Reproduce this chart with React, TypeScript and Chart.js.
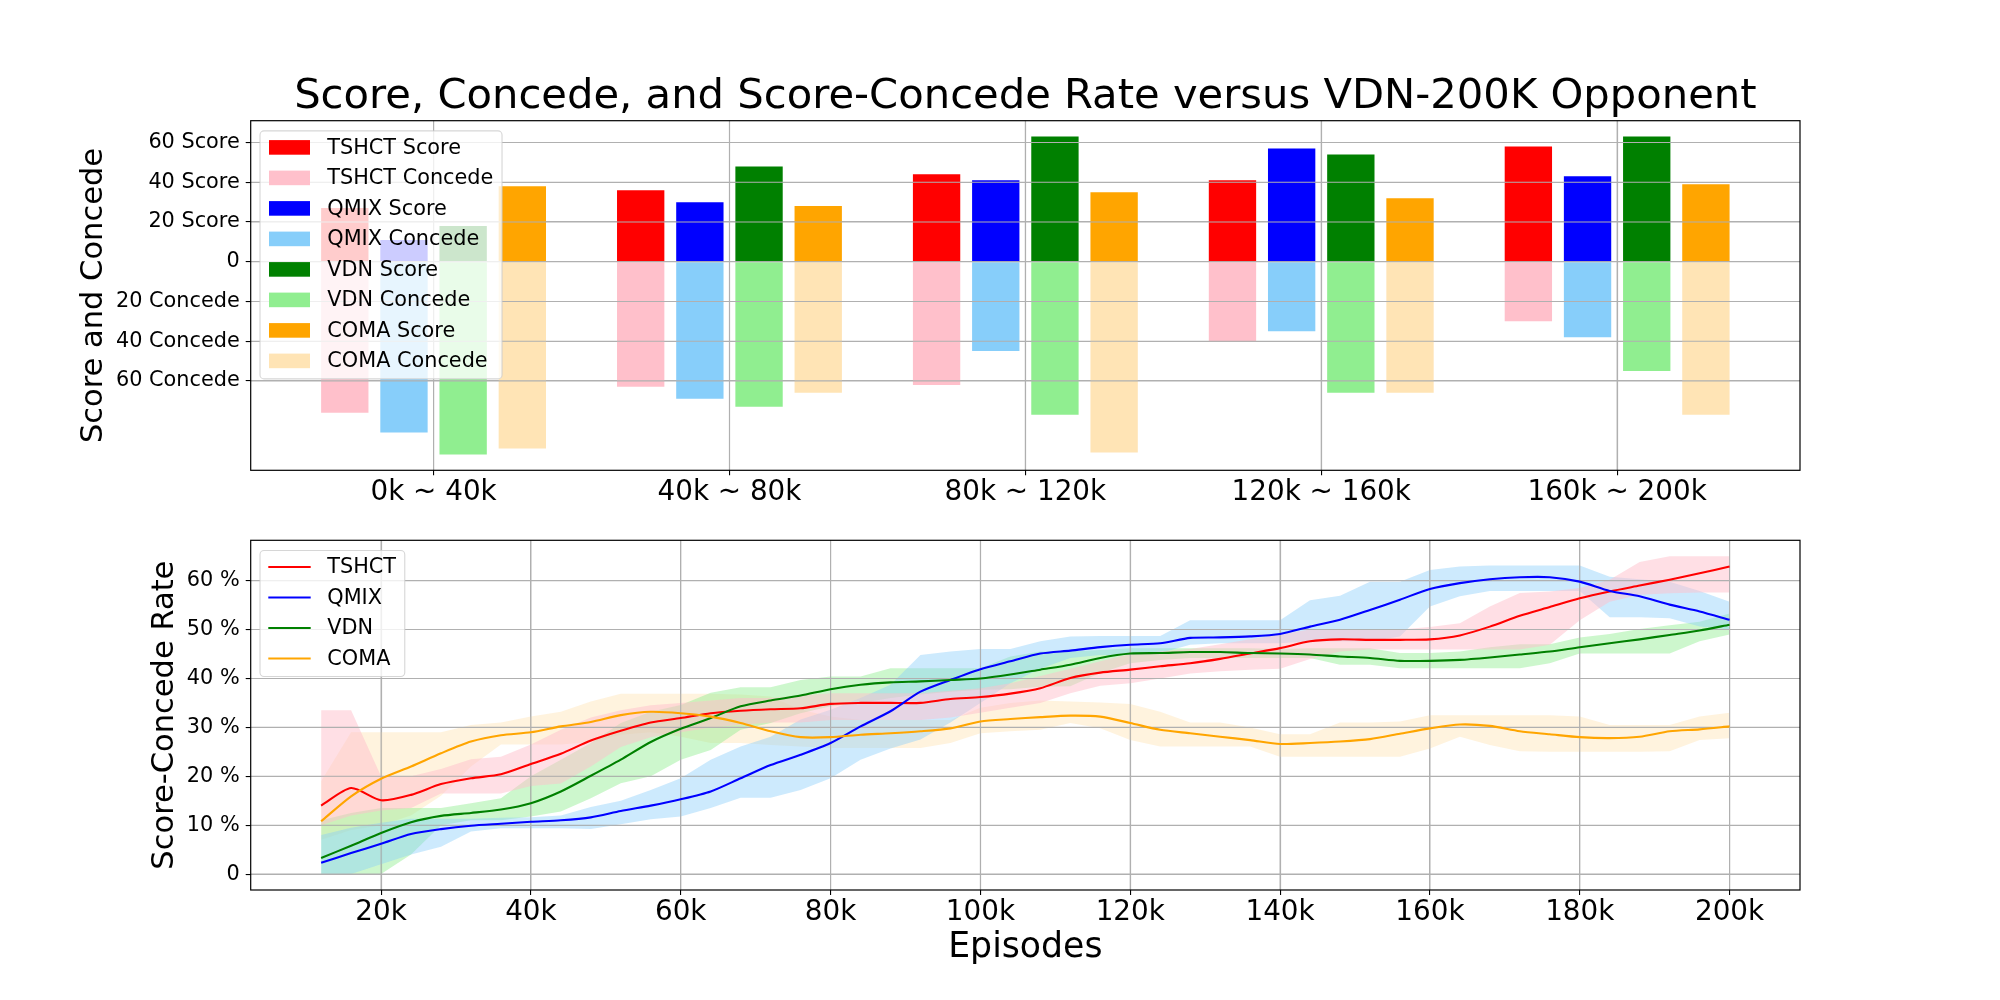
import { useEffect, useRef } from 'react';
import { Chart, registerables } from 'chart.js';

Chart.register(...registerables);
Chart.defaults.font.family = 'DejaVu Sans';
Chart.defaults.color = '#000';

// ---- top panel: goals scored / conceded per training period ----
const periods = ['0k ~ 40k', '40k ~ 80k', '80k ~ 120k', '120k ~ 160k', '160k ~ 200k'];
const periodX = [0, 1, 2, 3, 4];
const methods = ['TSHCT', 'QMIX', 'VDN', 'COMA'];

const tshctScore = [27, 36, 44, 41, 58];
const tshctConcede = [76, 63, 62, 40, 30];
const qmixScore = [11, 30, 41, 57, 43];
const qmixConcede = [86, 69, 45, 35, 38];
const vdnScore = [18, 48, 63, 54, 63];
const vdnConcede = [97, 73, 77, 66, 55];
const comaScore = [38, 28, 35, 32, 39];
const comaConcede = [94, 66, 96, 66, 77];

const scoreTicks = [-60, -40, -20, 0, 20, 40, 60];
const scoreTickLabels = ['60 Concede', '40 Concede', '20 Concede', '0', '20 Score', '40 Score', '60 Score'];

// ---- bottom panel: score-concede rate (%) over episodes (k) ----
const episodes = [12, 16, 20, 24, 28, 32, 36, 40, 44, 48, 52, 56, 60, 64, 68, 72, 76, 80, 84, 88, 92, 96, 100, 104,
  108, 112, 116, 120, 124, 128, 132, 136, 140, 144, 148, 152, 156, 160, 164, 168, 172, 176, 180, 184, 188, 192, 196, 200];

const tshctRate = [14.0, 17.6, 15.1, 16.2, 18.4, 19.6, 20.4, 22.5, 24.6, 27.3, 29.3, 31.0, 31.9, 32.9, 33.4, 33.7,
  33.9, 34.8, 35.0, 35.0, 35.0, 35.8, 36.2, 36.9, 38.0, 40.1, 41.2, 41.8, 42.5, 43.1, 44.0, 45.1, 46.2, 47.6, 48.0,
  47.9, 47.9, 48.0, 48.8, 50.6, 52.8, 54.6, 56.4, 57.8, 59.0, 60.2, 61.5, 62.9];
const tshctLow = [10, 12, 13, 13.5, 16.5, 16.5, 16.5, 18, 18.5, 22, 26, 28, 29, 30, 30.5, 31, 31, 31.5, 31.5, 31.5,
  31.5, 32, 33, 34, 35, 37, 38.5, 39, 40, 41, 41.5, 41.8, 42, 44, 45.5, 45.9, 45.9, 45.9, 45.9, 45.9, 45.9, 46.9,
  51.9, 55.7, 57.1, 57.4, 57.6, 57.6];
const tshctHigh = [33.5, 33.5, 20, 20, 21.5, 23.5, 24, 26.5, 29.5, 32, 33.5, 34.5, 35, 35.5, 36, 36, 36.5, 37, 37,
  37, 37, 37.5, 38, 39, 40.5, 42, 43.5, 45, 45.5, 46, 47, 48, 49, 50, 50, 50, 50, 50.5, 51.3, 54.7, 57.5, 57.8,
  58.5, 60.2, 63.8, 65, 65, 65];

const qmixRate = [2.3, 4.3, 6.2, 8.2, 9.2, 9.9, 10.3, 10.7, 11.0, 11.6, 12.9, 14.0, 15.3, 16.9, 19.6, 22.3, 24.4,
  26.8, 30.2, 33.3, 37.3, 39.7, 41.9, 43.5, 45.1, 45.7, 46.4, 46.9, 47.2, 48.3, 48.4, 48.6, 49.1, 50.6, 52.0, 54.0,
  56.1, 58.3, 59.5, 60.3, 60.7, 60.7, 59.8, 57.9, 56.8, 55.1, 53.7, 52.0];
const qmixLow = [0, 0, 2, 4, 5.6, 8.7, 9.4, 9.4, 9.4, 9.2, 10.2, 11.2, 11.8, 13.5, 15.6, 15.6, 17.2, 19.6, 23.4,
  25.7, 27.5, 31, 35, 39, 42, 44.2, 44.8, 44.8, 45.2, 46.9, 47.2, 47.2, 47.2, 47.6, 47.6, 47.6, 48.6, 54.7, 56.8,
  57.9, 57.9, 57.9, 57.9, 52.5, 52.5, 52.3, 50.6, 50.0];
const qmixHigh = [8, 9.5, 10.5, 11.3, 11.3, 11.3, 11.5, 11.6, 12.0, 13.7, 15.0, 17.2, 19.6, 23.4, 26.1, 28.1, 31.6,
  33.6, 36.0, 38.7, 44.8, 45.5, 46.0, 46.0, 47.6, 48.6, 48.7, 48.7, 48.7, 51.9, 51.9, 51.9, 51.9, 56.0, 56.9, 59.8,
  59.8, 62.2, 62.9, 63.1, 63.1, 63.1, 63.1, 60.8, 60.3, 59.8, 57.9, 55.7];

const vdnRate = [3.3, 5.8, 8.4, 10.6, 11.9, 12.5, 13.2, 14.5, 16.9, 20.1, 23.4, 27.0, 29.7, 31.9, 34.3, 35.5, 36.5,
  37.8, 38.7, 39.2, 39.4, 39.7, 40.0, 40.8, 41.8, 42.8, 44.2, 45.1, 45.2, 45.4, 45.4, 45.2, 45.1, 44.9, 44.5, 44.2,
  43.6, 43.6, 43.8, 44.3, 44.9, 45.5, 46.4, 47.2, 48.0, 48.9, 49.8, 51.0];
const vdnLow = [0, 0, 0, 4, 10, 11, 11, 11.8, 12.8, 15.5, 18.6, 20, 23.4, 25.4, 29.5, 30.9, 32.9, 34.3, 35.0, 36.0,
  36.7, 37.3, 37.7, 37.8, 38.3, 38.4, 41.1, 43.1, 43.8, 44.2, 44.2, 44.2, 44.2, 44.2, 42.8, 42.8, 42.1, 42.1, 42.1,
  42.1, 42.1, 43.1, 45.1, 45.1, 45.1, 45.1, 47.6, 49.0];
const vdnHigh = [11, 12.5, 13.5, 13.5, 13.5, 14.5, 15.5, 20.0, 23.4, 26.8, 30.9, 33.2, 34.6, 37.1, 38.2, 38.2, 39.7,
  40.4, 40.4, 42.1, 42.1, 42.1, 42.1, 44.5, 45.5, 45.5, 45.8, 46.2, 46.2, 46.2, 46.2, 46.2, 46.0, 46.2, 46.2, 46.2,
  45.2, 45.2, 45.5, 46.4, 47.0, 47.0, 48.4, 49.1, 50.1, 50.9, 51.6, 53.3];

const comaRate = [10.8, 15.9, 19.5, 22.0, 24.7, 27.1, 28.4, 29.0, 30.2, 31.1, 32.5, 33.2, 32.9, 32.2, 30.9, 29.2,
  28.0, 28.0, 28.5, 28.8, 29.2, 29.8, 31.2, 31.7, 32.1, 32.4, 32.2, 30.9, 29.5, 28.8, 28.1, 27.4, 26.6, 26.8, 27.1,
  27.6, 28.7, 29.8, 30.6, 30.3, 29.2, 28.6, 28.0, 27.8, 28.1, 29.2, 29.6, 30.2];
const comaLow = [7, 9, 10, 12, 16, 22, 26.5, 26.5, 26.5, 27, 28.5, 29, 28.1, 26.8, 26.8, 26.4, 26.1, 25.8, 25.8,
  25.8, 25.8, 26.8, 28.8, 29.2, 29.5, 30.9, 29.8, 27.4, 26.1, 26.1, 26.1, 26.1, 24.0, 24.0, 24.0, 24.0, 24.0, 25.7,
  28.1, 26.4, 25.1, 25.0, 25.0, 25.0, 25.0, 25.1, 27.4, 27.8];
const comaHigh = [19, 29, 29, 29, 29, 30.5, 31, 32.2, 33.2, 35.3, 36.9, 36.9, 36.9, 36.9, 36.7, 36.3, 33.6, 32.2,
  31.5, 31.5, 31.5, 31.5, 34, 35, 35.5, 35.3, 35.1, 34.8, 33.2, 31.0, 31.0, 30.0, 28.6, 28.6, 31.0, 31.0, 31.2, 32.5,
  32.5, 32.5, 32.5, 32.5, 32.2, 30.5, 30.5, 30.5, 32.2, 33.0];

const rateTicks = [0, 10, 20, 30, 40, 50, 60];
const rateTickLabels = ['0', '10 %', '20 %', '30 %', '40 %', '50 %', '60 %'];
const episodeTicks = [20, 40, 60, 80, 100, 120, 140, 160, 180, 200];
const episodeTickLabels = ['20k', '40k', '60k', '80k', '100k', '120k', '140k', '160k', '180k', '200k'];

// ---- styling ----
const GRID = '#b0b0b0';
const mainColors = ['red', 'blue', 'green', 'orange'];
const lightColors = ['pink', 'lightskyblue', 'lightgreen', 'moccasin'];
const bandColors = ['rgba(255,192,203,0.5)', 'rgba(135,206,250,0.42)', 'rgba(144,238,144,0.45)', 'rgba(255,228,181,0.45)'];
const PLOT_LEFT = 250.7;
const PLOT_RIGHT_PAD = 200;

function strokeGrid(chart: any) {
  const { ctx, chartArea: a, scales } = chart;
  ctx.save();
  ctx.strokeStyle = GRID;
  ctx.lineWidth = 1.1;
  ctx.beginPath();
  for (const t of scales.x.ticks) {
    const px = scales.x.getPixelForValue(t.value);
    ctx.moveTo(px, a.top);
    ctx.lineTo(px, a.bottom);
  }
  for (const t of scales.y.ticks) {
    const py = scales.y.getPixelForValue(t.value);
    ctx.moveTo(a.left, py);
    ctx.lineTo(a.right, py);
  }
  ctx.stroke();
  ctx.restore();
}

function strokeFrame(chart: any) {
  const { ctx, chartArea: a } = chart;
  ctx.save();
  ctx.strokeStyle = '#000';
  ctx.lineWidth = 1.2;
  ctx.strokeRect(a.left, a.top, a.right - a.left, a.bottom - a.top);
  ctx.restore();
}

function drawLegend(chart: any, items: { label: string; color: string }[], handle: 'patch' | 'line') {
  const { ctx, chartArea } = chart;
  const x = chartArea.left + 9.3;
  const y = chartArea.top + 10.2;
  ctx.save();
  ctx.font = '20.8px "DejaVu Sans"';
  const textW = Math.max(...items.map((it) => ctx.measureText(it.label).width));
  const w = 67.3 + textW + 8.7;
  const h = 16.5 + (items.length - 1) * 30.5 + 18;
  ctx.beginPath();
  if (ctx.roundRect) ctx.roundRect(x, y, w, h, 4);
  else ctx.rect(x, y, w, h);
  ctx.fillStyle = 'rgba(255,255,255,0.8)';
  ctx.fill();
  ctx.strokeStyle = 'rgba(204,204,204,0.8)';
  ctx.lineWidth = 1.1;
  ctx.stroke();
  items.forEach((it, i) => {
    const cy = y + 16.5 + i * 30.5;
    if (handle === 'patch') {
      ctx.fillStyle = it.color;
      ctx.fillRect(x + 9, cy - 7.3, 41, 14.6);
    } else {
      ctx.strokeStyle = it.color;
      ctx.lineWidth = 2.1;
      ctx.beginPath();
      ctx.moveTo(x + 8.3, cy);
      ctx.lineTo(x + 50.7, cy);
      ctx.stroke();
    }
    ctx.fillStyle = '#000';
    ctx.textAlign = 'left';
    ctx.textBaseline = 'middle';
    ctx.fillText(it.label, x + 67.3, cy + 1);
  });
  ctx.restore();
}

const tickFont = { size: 20.8 };
const bigTickFont = { size: 27.8 };
const gridOpts = { color: GRID, lineWidth: 1.1, tickColor: '#000', tickLength: 5, tickWidth: 1.1, offset: false };

function buildTop(canvas: HTMLCanvasElement) {
  const scores = [tshctScore, qmixScore, vdnScore, comaScore];
  const concedes = [tshctConcede, qmixConcede, vdnConcede, comaConcede];
  const datasets = methods.flatMap((m, i) => [
    {
      label: `${m} Score`,
      stack: m,
      data: periodX.map((x, j) => ({ x, y: scores[i][j] })),
      backgroundColor: mainColors[i],
    },
    {
      label: `${m} Concede`,
      stack: m,
      data: periodX.map((x, j) => ({ x, y: -concedes[i][j] })),
      backgroundColor: lightColors[i],
    },
  ]);
  const hi = Math.max(...scores.flat());
  const lo = -Math.max(...concedes.flat());
  const margin = (hi - lo) * 0.05;

  return new Chart(canvas, {
    type: 'bar',
    data: { datasets } as any,
    options: {
      animation: false,
      responsive: false,
      events: [],
      layout: { padding: { left: 0, right: PLOT_RIGHT_PAD, top: 0, bottom: 0 } },
      datasets: { bar: { categoryPercentage: 0.8, barPercentage: 0.8, borderWidth: 0 } },
      plugins: {
        legend: { display: false },
        tooltip: { enabled: false },
        title: {
          display: true,
          fullSize: false,
          text: 'Score, Concede, and Score-Concede Rate versus VDN-200K Opponent',
          font: { size: 41.7, weight: 'normal', lineHeight: 1 },
          padding: { top: 76.5, bottom: 2.5 },
          color: '#000',
        },
      },
      scales: {
        x: {
          type: 'linear',
          stacked: true,
          offset: false,
          min: -0.618,
          max: 4.618,
          afterBuildTicks: (s: any) => { s.ticks = periodX.map((v) => ({ value: v })); },
          afterFit: (s: any) => { s.height = 59.7; },
          ticks: {
            font: bigTickFont,
            padding: 1,
            maxRotation: 0,
            autoSkip: false,
            callback: (_v: any, i: number) => periods[i],
          },
          grid: gridOpts,
          border: { display: false },
        },
        y: {
          type: 'linear',
          stacked: true,
          min: lo - margin,
          max: hi + margin,
          afterBuildTicks: (s: any) => { s.ticks = scoreTicks.map((v) => ({ value: v })); },
          afterFit: (s: any) => { s.width = PLOT_LEFT; },
          ticks: { font: tickFont, padding: 6, callback: (_v: any, i: number) => scoreTickLabels[i] },
          grid: gridOpts,
          border: { display: false },
          title: {
            display: true,
            text: 'Score and Concede',
            font: { size: 30.5 },
            padding: { top: 76.2, bottom: 0 },
          },
        },
      },
    } as any,
    plugins: [
      {
        id: 'topDecor',
        afterDatasetsDraw(chart: any) {
          strokeGrid(chart);
        },
        afterDraw(chart: any) {
          strokeFrame(chart);
          const items = chart.data.datasets.map((d: any) => ({ label: d.label, color: d.backgroundColor }));
          drawLegend(chart, items, 'patch');
        },
      },
    ],
  });
}

function buildBottom(canvas: HTMLCanvasElement) {
  const rates = [tshctRate, qmixRate, vdnRate, comaRate];
  const lows = [tshctLow, qmixLow, vdnLow, comaLow];
  const highs = [tshctHigh, qmixHigh, vdnHigh, comaHigh];
  const pts = (vals: number[]) => episodes.map((e, i) => ({ x: e, y: vals[i] }));

  const bands = methods.flatMap((_m, i) => [
    {
      data: pts(highs[i]),
      fill: '+1',
      backgroundColor: bandColors[i],
      borderWidth: 0,
      pointRadius: 0,
      tension: 0,
      order: 10,
    },
    {
      data: pts(lows[i]),
      fill: false,
      borderWidth: 0,
      pointRadius: 0,
      tension: 0,
      order: 10,
    },
  ]);
  const lines = methods.map((m, i) => ({
    label: m,
    data: pts(rates[i]),
    borderColor: mainColors[i],
    borderWidth: 2.1,
    pointRadius: 0,
    fill: false,
    tension: 0.25,
    order: methods.length - 1 - i,
  }));
  const bandCount = bands.length;

  return new Chart(canvas, {
    type: 'line',
    data: { datasets: [...bands, ...lines] } as any,
    options: {
      animation: false,
      responsive: false,
      events: [],
      layout: { padding: { left: 0, right: PLOT_RIGHT_PAD, top: 40.3, bottom: 0 } },
      plugins: { legend: { display: false }, tooltip: { enabled: false } },
      scales: {
        x: {
          type: 'linear',
          offset: false,
          min: 2.6,
          max: 209.4,
          afterBuildTicks: (s: any) => { s.ticks = episodeTicks.map((v) => ({ value: v })); },
          afterFit: (s: any) => { s.height = 110; },
          ticks: {
            font: bigTickFont,
            padding: 1,
            maxRotation: 0,
            autoSkip: false,
            callback: (_v: any, i: number) => episodeTickLabels[i],
          },
          grid: gridOpts,
          border: { display: false },
          title: {
            display: true,
            text: 'Episodes',
            font: { size: 34.7 },
            padding: { top: 0, bottom: 31 },
          },
        },
        y: {
          type: 'linear',
          min: -3.25,
          max: 68.25,
          afterBuildTicks: (s: any) => { s.ticks = rateTicks.map((v) => ({ value: v })); },
          afterFit: (s: any) => { s.width = PLOT_LEFT; },
          ticks: { font: tickFont, padding: 6, callback: (_v: any, i: number) => rateTickLabels[i] },
          grid: gridOpts,
          border: { display: false },
          title: {
            display: true,
            text: 'Score-Concede Rate',
            font: { size: 30.5 },
            padding: { top: 147.2, bottom: 0 },
          },
        },
      },
    } as any,
    plugins: [
      {
        id: 'bottomDecor',
        beforeDatasetsDraw(chart: any) {
          chart.$gridDone = false;
        },
        beforeDatasetDraw(chart: any, args: any) {
          // grid sits above the shaded bands but below the mean lines
          if (args.index >= bandCount && !chart.$gridDone) {
            strokeGrid(chart);
            chart.$gridDone = true;
          }
        },
        afterDraw(chart: any) {
          strokeFrame(chart);
          const items = lines.map((d) => ({ label: d.label, color: d.borderColor }));
          drawLegend(chart, items, 'line');
        },
      },
    ],
  });
}

function ChartCanvas({ height, build }: { height: number; build: (c: HTMLCanvasElement) => Chart }) {
  const ref = useRef<HTMLCanvasElement>(null);
  useEffect(() => {
    if (!ref.current) return;
    const chart = build(ref.current);
    return () => chart.destroy();
  }, [build]);
  return <canvas ref={ref} width={2000} height={height} style={{ display: 'block', width: 2000, height }} />;
}

export default function App() {
  return (
    <div style={{ position: 'fixed', left: 0, top: 0, width: 2000, height: 1000, background: '#fff' }}>
      <div style={{ position: 'absolute', left: 0, top: 0 }}>
        <ChartCanvas height={530} build={buildTop} />
      </div>
      <div style={{ position: 'absolute', left: 0, top: 500 }}>
        <ChartCanvas height={500} build={buildBottom} />
      </div>
    </div>
  );
}
